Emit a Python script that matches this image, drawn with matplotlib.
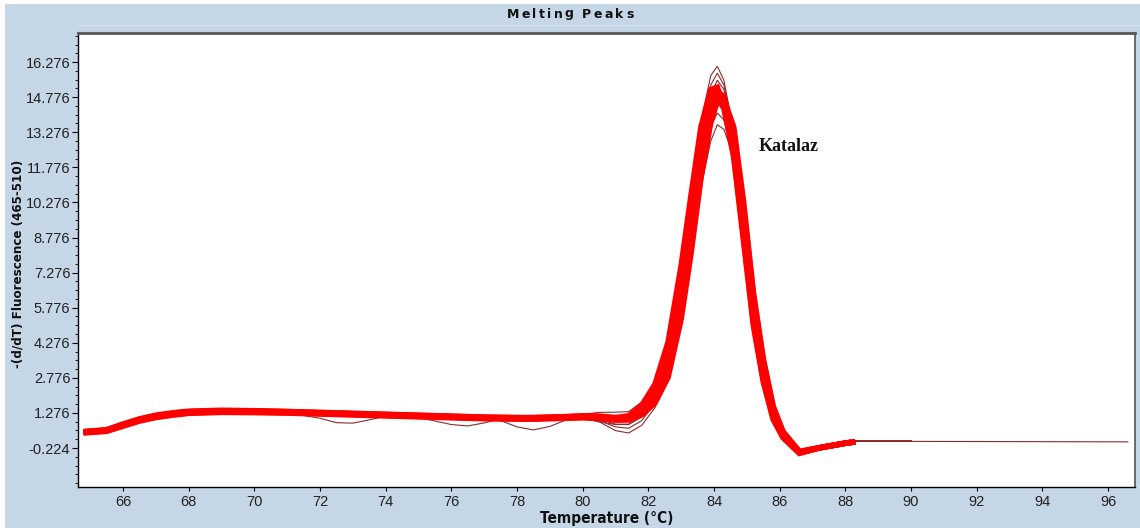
import numpy as np
import matplotlib
matplotlib.use("Agg")
import matplotlib.pyplot as plt
from matplotlib.patches import Rectangle
from matplotlib.lines import Line2D
from matplotlib.ticker import FixedLocator, FormatStrFormatter
from matplotlib import font_manager

# Temperature grid (°C): flat pre-melt region, then the melting peak region
TEMP_BASE = [64.8, 65.5, 66.0, 66.5, 67.0, 67.5, 68.0, 69.0, 70.0, 71.0, 72.0, 72.5,
             73.0, 73.5, 74.0, 75.0, 76.0, 76.5, 77.0, 77.5, 78.0, 78.5, 79.0, 79.5,
             80.0, 80.5, 81.0]
TEMP_PEAK = [81.4, 81.8, 82.2, 82.6, 83.0, 83.3, 83.6, 83.9, 84.1, 84.3, 84.6, 84.9,
             85.2, 85.5, 85.8, 86.1, 86.6, 87.2, 88.0, 88.3, 90.0]

# Bundle samples (-dF/dT), pre-melt part and peak part
RED_BASE = [
    [0.48, 0.56, 0.80, 1.02, 1.18, 1.28, 1.35, 1.39, 1.37, 1.34, 1.30, 1.28, 1.26, 1.24,
     1.22, 1.18, 1.14, 1.12, 1.10, 1.09, 1.08, 1.08, 1.10, 1.12, 1.15, 1.14, 1.08],
    [0.45, 0.52, 0.75, 0.97, 1.12, 1.22, 1.30, 1.34, 1.32, 1.30, 1.26, 1.24, 1.22, 1.20,
     1.18, 1.14, 1.10, 1.08, 1.06, 1.05, 1.04, 1.04, 1.06, 1.08, 1.10, 1.08, 1.02],
    [0.42, 0.49, 0.71, 0.93, 1.08, 1.18, 1.26, 1.30, 1.29, 1.27, 1.23, 1.21, 1.19, 1.17,
     1.15, 1.11, 1.07, 1.05, 1.03, 1.02, 1.01, 1.01, 1.03, 1.05, 1.07, 1.04, 0.97],
    [0.46, 0.53, 0.77, 0.99, 1.14, 1.24, 1.32, 1.36, 1.34, 1.31, 1.27, 1.25, 1.23, 1.21,
     1.19, 1.15, 1.11, 1.09, 1.07, 1.06, 1.05, 1.05, 1.07, 1.10, 1.13, 1.11, 1.04],
    [0.44, 0.51, 0.73, 0.95, 1.10, 1.20, 1.28, 1.32, 1.31, 1.29, 1.25, 1.23, 1.21, 1.19,
     1.17, 1.13, 1.09, 1.07, 1.05, 1.04, 1.03, 1.03, 1.05, 1.07, 1.09, 1.06, 0.99],
    [0.46, 0.54, 0.77, 0.98, 1.13, 1.23, 1.31, 1.35, 1.33, 1.31, 1.27, 1.25, 1.23, 1.21,
     1.19, 1.15, 1.11, 1.09, 1.07, 1.06, 1.05, 1.05, 1.07, 1.09, 1.11, 1.09, 1.03],
    [0.47, 0.54, 0.78, 1.00, 1.15, 1.25, 1.33, 1.37, 1.36, 1.33, 1.29, 1.27, 1.25, 1.23,
     1.21, 1.17, 1.13, 1.11, 1.09, 1.08, 1.07, 1.07, 1.09, 1.11, 1.14, 1.12, 1.05],
]
RED_PEAK = [
    [1.15, 1.60, 2.50, 4.30, 7.6, 10.6, 13.5, 15.1, 15.2, 14.4, 12.2, 8.6, 5.0, 2.6, 1.00,
     0.22, -0.45, -0.22, -0.02, 0.04, None],
    [1.05, 1.38, 2.05, 3.40, 6.4, 9.3, 12.5, 14.6, 15.0, 14.6, 12.9, 9.4, 5.6, 3.0, 1.20,
     0.30, -0.42, -0.22, -0.02, 0.04, None],
    [0.98, 1.20, 1.70, 2.80, 5.3, 8.1, 11.3, 13.8, 14.8, 14.7, 13.5, 10.3, 6.4, 3.6, 1.55,
     0.45, -0.38, -0.21, -0.01, 0.05, None],
    [1.10, 1.50, 2.30, 3.90, 7.1, 10.0, 13.0, 14.7, 14.9, 14.3, 12.3, 8.8, 5.1, 2.7, 1.05,
     0.24, -0.44, -0.22, -0.02, 0.04, None],
    [1.00, 1.25, 1.80, 2.95, 5.6, 8.4, 11.4, 13.7, 14.6, 14.5, 13.2, 10.0, 6.3, 3.5, 1.55,
     0.48, -0.37, -0.21, -0.01, 0.05, None],
    [1.06, 1.40, 2.10, 3.50, 6.6, 9.5, 12.7, 14.8, 15.1, 14.7, 12.9, 9.3, 5.5, 2.9, 1.15,
     0.28, -0.42, -0.22, -0.02, 0.04, None],
    [1.04, 1.33, 1.95, 3.20, 6.0, 8.9, 12.0, 14.3, 15.0, 14.8, 13.2, 9.8, 5.9, 3.2, 1.35,
     0.36, -0.40, -0.22, -0.02, 0.04, None],
]

# Individually visible samples (thin traces)
DARK_BASE = [
    [0.47, 0.55, 0.79, 1.00, 1.16, 1.26, 1.33, 1.37, 1.35, 1.32, 1.28, 1.26, 1.24, 1.22,
     1.20, 1.16, 1.12, 1.10, 1.08, 1.07, 1.06, 1.06, 1.08, 1.10, 1.22, 1.30, 1.31],
    [0.45, 0.52, 0.75, 0.97, 1.12, 1.22, 1.30, 1.33, 1.31, 1.28, 1.05, 0.86, 0.84, 0.98,
     1.14, 1.08, 0.78, 0.72, 0.85, 1.02, 1.03, 1.03, 1.05, 1.07, 1.05, 0.90, 0.78],
    [0.44, 0.51, 0.74, 0.96, 1.11, 1.21, 1.29, 1.33, 1.31, 1.29, 1.25, 1.23, 1.21, 1.19,
     1.17, 1.13, 1.09, 1.07, 1.05, 0.95, 0.68, 0.55, 0.70, 0.98, 1.05, 0.90, 0.52],
    [0.45, 0.52, 0.75, 0.97, 1.12, 1.22, 1.30, 1.34, 1.32, 1.30, 1.26, 1.24, 1.22, 1.20,
     1.18, 1.14, 1.10, 1.08, 1.06, 1.05, 1.04, 1.04, 1.06, 1.08, 1.08, 0.95, 0.68],
    [0.46, 0.53, 0.77, 0.99, 1.14, 1.24, 1.32, 1.36, 1.34, 1.31, 1.27, 1.25, 1.23, 1.21,
     1.19, 1.15, 1.11, 1.09, 1.07, 1.06, 1.05, 1.05, 1.07, 1.10, 1.12, 1.00, 0.80],
    [0.43, 0.50, 0.72, 0.94, 1.09, 1.19, 1.27, 1.31, 1.30, 1.28, 1.24, 1.22, 1.20, 1.18,
     1.16, 1.12, 1.08, 1.06, 1.04, 1.03, 1.02, 1.02, 1.04, 1.06, 1.08, 1.05, 0.98],
    [0.44, 0.51, 0.73, 0.95, 1.10, 1.20, 1.28, 1.32, 1.31, 1.29, 1.25, 1.23, 1.21, 1.19,
     1.17, 1.13, 1.09, 1.07, 1.05, 1.04, 1.03, 1.03, 1.05, 1.07, 1.09, 1.06, 0.99],
    [0.45, 0.52, 0.75, 0.97, 1.12, 1.22, 1.30, 1.34, 1.32, 1.30, 1.26, 1.24, 1.22, 1.20,
     1.18, 1.14, 1.10, 1.08, 1.06, 1.05, 1.04, 1.04, 1.06, 1.08, 1.10, 1.08, 1.02],
]
DARK_PEAK = [
    [1.33, 1.75, 2.60, 4.30, 7.5, 10.6, 13.7, 15.7, 16.1, 15.5, 13.3, 9.6, 5.6, 2.9, 1.15,
     0.25, -0.45, -0.24, 0.00, 0.08, 0.06],
    [0.80, 1.20, 1.90, 3.30, 6.5, 9.8, 13.1, 15.3, 15.8, 15.3, 13.3, 9.6, 5.7, 3.0, 1.20,
     0.30, -0.42, -0.25, -0.01, 0.08, 0.09],
    [0.42, 0.75, 1.50, 2.80, 5.5, 8.3, 11.4, 13.5, 14.1, 13.8, 12.4, 9.4, 5.8, 3.2, 1.35,
     0.38, -0.40, -0.25, -0.01, 0.08, 0.09],
    [0.62, 0.95, 1.70, 3.10, 6.2, 9.4, 12.7, 14.9, 15.5, 15.1, 13.2, 9.6, 5.7, 3.0, 1.20,
     0.30, -0.43, -0.24, 0.00, 0.08, 0.09],
    [0.78, 1.10, 1.85, 3.30, 6.4, 9.5, 12.7, 14.7, 15.2, 14.8, 13.0, 9.5, 5.6, 3.0, 1.20,
     0.30, -0.42, -0.24, 0.00, 0.08, 0.09],
    [1.00, 1.30, 1.95, 3.30, 6.3, 9.3, 12.4, 14.4, 14.9, 14.5, 12.8, 9.4, 5.6, 3.0, 1.20,
     0.30, -0.42, -0.24, 0.00, 0.08, 0.09],
    [0.95, 1.20, 1.80, 3.00, 5.9, 8.8, 11.9, 13.9, 14.5, 14.2, 12.7, 9.5, 5.8, 3.2, 1.35,
     0.38, -0.40, -0.24, 0.00, 0.08, 0.09],
    [0.98, 1.22, 1.75, 2.90, 5.4, 8.1, 10.9, 12.9, 13.6, 13.4, 12.2, 9.3, 5.9, 3.3, 1.40,
     0.42, -0.38, -0.24, 0.00, 0.08, 0.09],
]

# One trace runs on to the end of the ramp
TAIL_TEMP = [90.0, 96.6]
TAIL_VALUE = [0.06, 0.04]

Y_TICKS = [-0.224, 1.276, 2.776, 4.276, 5.776, 7.276, 8.776, 10.276, 11.776,
           13.276, 14.776, 16.276]
X_TICKS = [66, 68, 70, 72, 74, 76, 78, 80, 82, 84, 86, 88, 90, 92, 94, 96]
TITLE = "Melting Peaks"

installed = {f.name for f in font_manager.fontManager.ttflist}
narrow = "Liberation Sans Narrow" if "Liberation Sans Narrow" in installed else "DejaVu Sans"

W, H = 1140, 528
fig = plt.figure(figsize=(W / 100, H / 100), dpi=100, facecolor="white")
fig.patches.append(Rectangle((5 / W, 0), 1, 1 - 4 / H, transform=fig.transFigure,
                             facecolor="#c5d6e7", edgecolor="none", zorder=-10))
fig.lines.append(Line2D([78 / W, 1], [1 - 25 / H, 1 - 25 / H], transform=fig.transFigure,
                        color="#dbe6f0", lw=0.8))

ax = fig.add_axes([78 / W, 1 - 487 / H, (1135 - 78) / W, (487 - 33) / H])
ax.set_facecolor("white")

temps = np.array(TEMP_BASE + TEMP_PEAK, dtype=float)
for base, peak in zip(DARK_BASE, DARK_PEAK):
    ax.plot(temps, np.array(base + peak, dtype=float), color="#8e2a2a", lw=0.8,
            zorder=2, solid_joinstyle="miter")
ax.plot(TAIL_TEMP, TAIL_VALUE, color="#8e2a2a", lw=0.8, zorder=2)
for base, peak in zip(RED_BASE, RED_PEAK):
    ax.plot(temps, np.array(base + peak, dtype=float), color="#ff0000", lw=4.0,
            zorder=3, solid_joinstyle="miter", solid_capstyle="butt")

ax.set_xlim(64.63, 96.82)
ax.set_ylim(-1.89, 17.52)

ax.yaxis.set_major_locator(FixedLocator(Y_TICKS))
ax.yaxis.set_minor_locator(FixedLocator(np.arange(Y_TICKS[0] - 1.5, 17.6, 0.375)))
ax.yaxis.set_major_formatter(FormatStrFormatter("%.3f"))
ax.xaxis.set_major_locator(FixedLocator(X_TICKS))

ax.tick_params(axis="y", which="major", direction="out", length=4, width=0.8, pad=1.5,
               labelsize=10.5)
ax.tick_params(axis="y", which="minor", direction="out", length=2, width=0.6)
ax.tick_params(axis="x", which="major", direction="out", length=3, width=0.8, pad=3,
               labelsize=10.5)
for lab in ax.get_xticklabels() + ax.get_yticklabels():
    lab.set_family(["Liberation Sans", "DejaVu Sans"])
    lab.set_color("#222222")

for side in ("left", "bottom"):
    ax.spines[side].set_color("black")
    ax.spines[side].set_linewidth(1.0)
ax.spines["top"].set_color("#555555")
ax.spines["top"].set_linewidth(2.0)
ax.spines["right"].set_color("#555555")
ax.spines["right"].set_linewidth(1.2)

ax.text(85.36, 12.47, "Katalaz", family=["Liberation Serif", "DejaVu Serif"],
        fontweight="bold", fontsize=13, ha="left", va="baseline", color="#111111")

# Letter-spaced header: place each glyph with an extra gap
renderer = fig.canvas.get_renderer()
gap = 2.4
glyphs = []
widths = []
for ch in TITLE:
    t = fig.text(0, 1 - 14 / H, ch, ha="left", va="center", fontsize=9,
                 fontweight="bold", family=["DejaVu Sans"], color="#111111")
    w = t.get_window_extent(renderer).width if ch != " " else 3.5
    glyphs.append(t)
    widths.append(w)
total = sum(widths) + gap * (len(TITLE) - 1)
x = 570 - total / 2
for t, w in zip(glyphs, widths):
    t.set_x(x / W)
    x += w + gap

fig.text(18 / W, 1 - 264 / H, "-(d/dT) Fluorescence (465-510)", rotation=90,
         ha="center", va="center", fontsize=9.5, fontweight="bold",
         family=[narrow], fontstretch="condensed", color="#111111")
fig.text(607 / W, 1 - 518 / H, "Temperature (°C)", ha="center", va="center",
         fontsize=11, fontweight="bold", family=[narrow], fontstretch="condensed",
         color="#111111")

fig.savefig("out.png", dpi=100, facecolor=fig.get_facecolor())
